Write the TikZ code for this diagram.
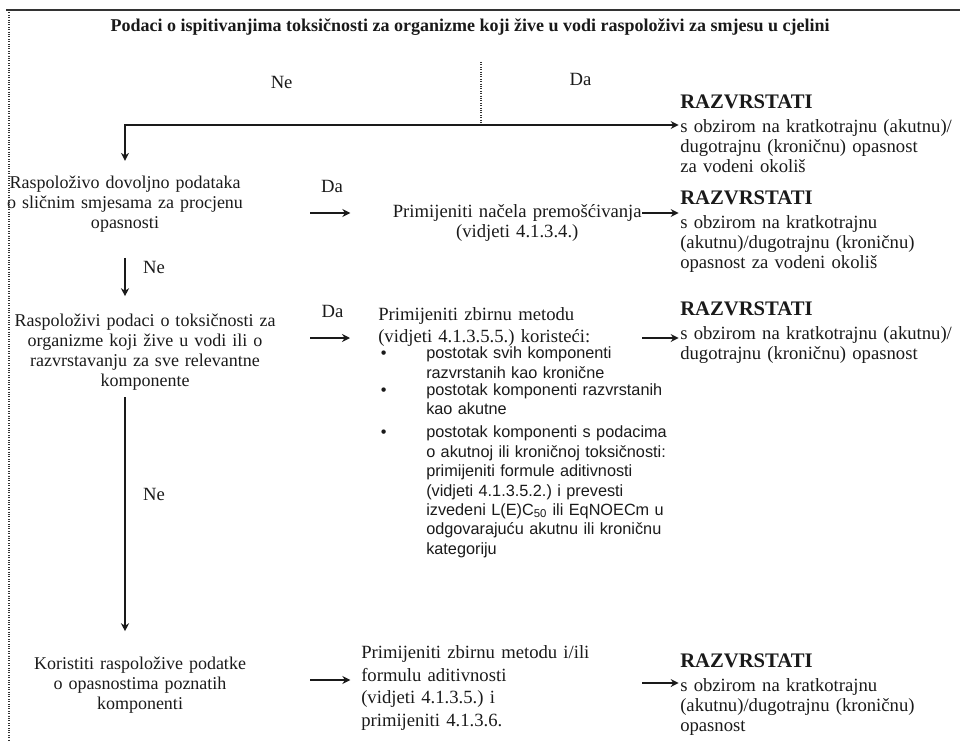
\documentclass[tikz,border=0pt]{standalone}
\usepackage{fontspec}
\setmainfont{Liberation Serif}
\newfontfamily\listfont{Liberation Sans}
\usepackage{tikz}
\usetikzlibrary{positioning, arrows.meta}
\definecolor{inkblack}{HTML}{1A1A1A}
\definecolor{rulegrey}{HTML}{333333}
\frenchspacing

\newcommand{\razvrstati}{{\fontsize{15.5}{17}\selectfont\bfseries RAZVRSTATI}\\[3pt]}
\newcommand{\listentry}[1]{\makebox[34pt][l]{\textbullet}\parbox[t]{195pt}{\fontsize{12.2}{14.6}\selectfont#1}}

\begin{document}
\begin{tikzpicture}[
  x=0.75pt, y=-0.75pt,
  every node/.style={inner sep=0pt, text=inkblack, font=\fontsize{14}{15}\selectfont},
  question/.style={align=center, text width=225pt, font=\fontsize{13.5}{15}\selectfont},
  method/.style={align=left, anchor=west, text width=210pt},
  verdict/.style={align=left, anchor=west, text width=210pt},
  bullets/.style={
    align=left,
    text width=232pt,
    font=\listfont\fontsize{12.2}{14.6}\selectfont,
  },
  link/.style={
    -{Stealth[length=6pt, width=6pt]},
    line width=1.2pt,
    draw=inkblack,
  },
  frame/.style={line width=0.8pt, draw=rulegrey},
]
  \useasboundingbox (0,0) rectangle (960,742);

  \node[font=\fontsize{13.5}{16}\selectfont\bfseries] (title) at (470,27)
    {Podaci o ispitivanjima toksičnosti za organizme koji žive u vodi raspoloživi za smjesu u cjelini};

  \node[question] (similar) at (125,204) {Raspoloživo dovoljno podataka\\o sličnim smjesama za procjenu\\opasnosti};
  \node[question] (components) at (145,352) {Raspoloživi podaci o toksičnosti za\\organizme koji žive u vodi ili o\\razvrstavanju za sve relevantne\\komponente};
  \node[question] (known) at (140,685) {Koristiti raspoložive podatke\\o opasnostima poznatih\\komponenti};

  \node[method, align=center] (bridging) at (377,223) {Primijeniti načela premošćivanja\\(vidjeti 4.1.3.4.)};
  \node[method] (summation) at (378,327) {Primijeniti zbirnu metodu\\[1.5pt](vidjeti 4.1.3.5.5.) koristeći:};
  \node[bullets, below=0pt of summation.south west, anchor=north west, xshift=2pt] (shares) {%
    \listentry{postotak svih komponenti\\razvrstanih kao kronične}\\[3pt]
    \listentry{postotak komponenti razvrstanih\\kao akutne}\\[7pt]
    \listentry{postotak komponenti s podacima\\o akutnoj ili kroničnoj toksičnosti:\\primijeniti formule aditivnosti\\(vidjeti 4.1.3.5.2.) i prevesti\\izvedeni L(E)C\textsubscript{50} ili EqNOECm u\\odgovarajuću akutnu ili kroničnu\\kategoriju}};
  \node[method] (combined) at (361,688) {Primijeniti zbirnu metodu i/ili\\[2pt]formulu aditivnosti\\[2pt](vidjeti 4.1.3.5.) i\\[2pt]primijeniti 4.1.3.6.};

  \node[verdict] (verdictwhole) at (680,134) {\razvrstati s obzirom na kratkotrajnu (akutnu)/\\dugotrajnu (kroničnu) opasnost\\za vodeni okoliš};
  \node[verdict] (verdictbridge) at (680,232) {\razvrstati s obzirom na kratkotrajnu\\(akutnu)/dugotrajnu (kroničnu)\\opasnost za vodeni okoliš};
  \node[verdict] (verdictsum) at (680,333) {\razvrstati s obzirom na kratkotrajnu (akutnu)/\\dugotrajnu (kroničnu) opasnost};
  \node[verdict] (verdictknown) at (680,695) {\razvrstati s obzirom na kratkotrajnu\\(akutnu)/dugotrajnu (kroničnu)\\opasnost};

  \coordinate (fork) at (481,62);
  \coordinate (split) at (481,125);
  \coordinate (in1) at (310,213);
  \coordinate (in2) at (310,338);
  \coordinate (in3) at (310,680);
  \coordinate (out1) at (642,213);
  \coordinate (out2) at (642,338);
  \coordinate (out3) at (642,683);

  % page frame
  \draw[frame, line width=1.2pt] (6,10) -- (960,10);
  \draw[frame, densely dotted] (9,10) -- (9,742);

  \draw[frame, densely dotted] (fork) -- (split);
  \draw[link, shorten >=11pt] (split) -| node[pos=0.28, above=27pt]{Ne} (similar.north);
  \draw[link, shorten >=1pt] (split) -- node[above=29pt]{Da} (split -| verdictwhole.west);

  \draw[link, shorten <=19pt, shorten >=13pt] (similar.south) -- node[pos=0.43, right=13pt]{Ne} (similar.south |- components.north);
  \draw[link, shorten <=5pt, shorten >=19pt] (components.south -| similar.south) -- node[pos=0.39, right=13pt]{Ne} (known.north -| similar.south);

  \draw[link, shorten >=20pt] (in1) -- node[pos=0.33, above=15pt]{Da} (bridging.west |- in1);
  \draw[link, shorten >=21pt] (in2) -- node[pos=0.33, above=15pt]{Da} (summation.west |- in2);
  \draw[link, shorten >=8pt] (in3) -- (combined.west |- in3);

  \draw[link, shorten >=1pt] (out1) -- (verdictbridge.west |- out1);
  \draw[link, shorten >=1pt] (out2) -- (verdictsum.west |- out2);
  \draw[link, shorten >=1pt] (out3) -- (verdictknown.west |- out3);
\end{tikzpicture}
\end{document}
